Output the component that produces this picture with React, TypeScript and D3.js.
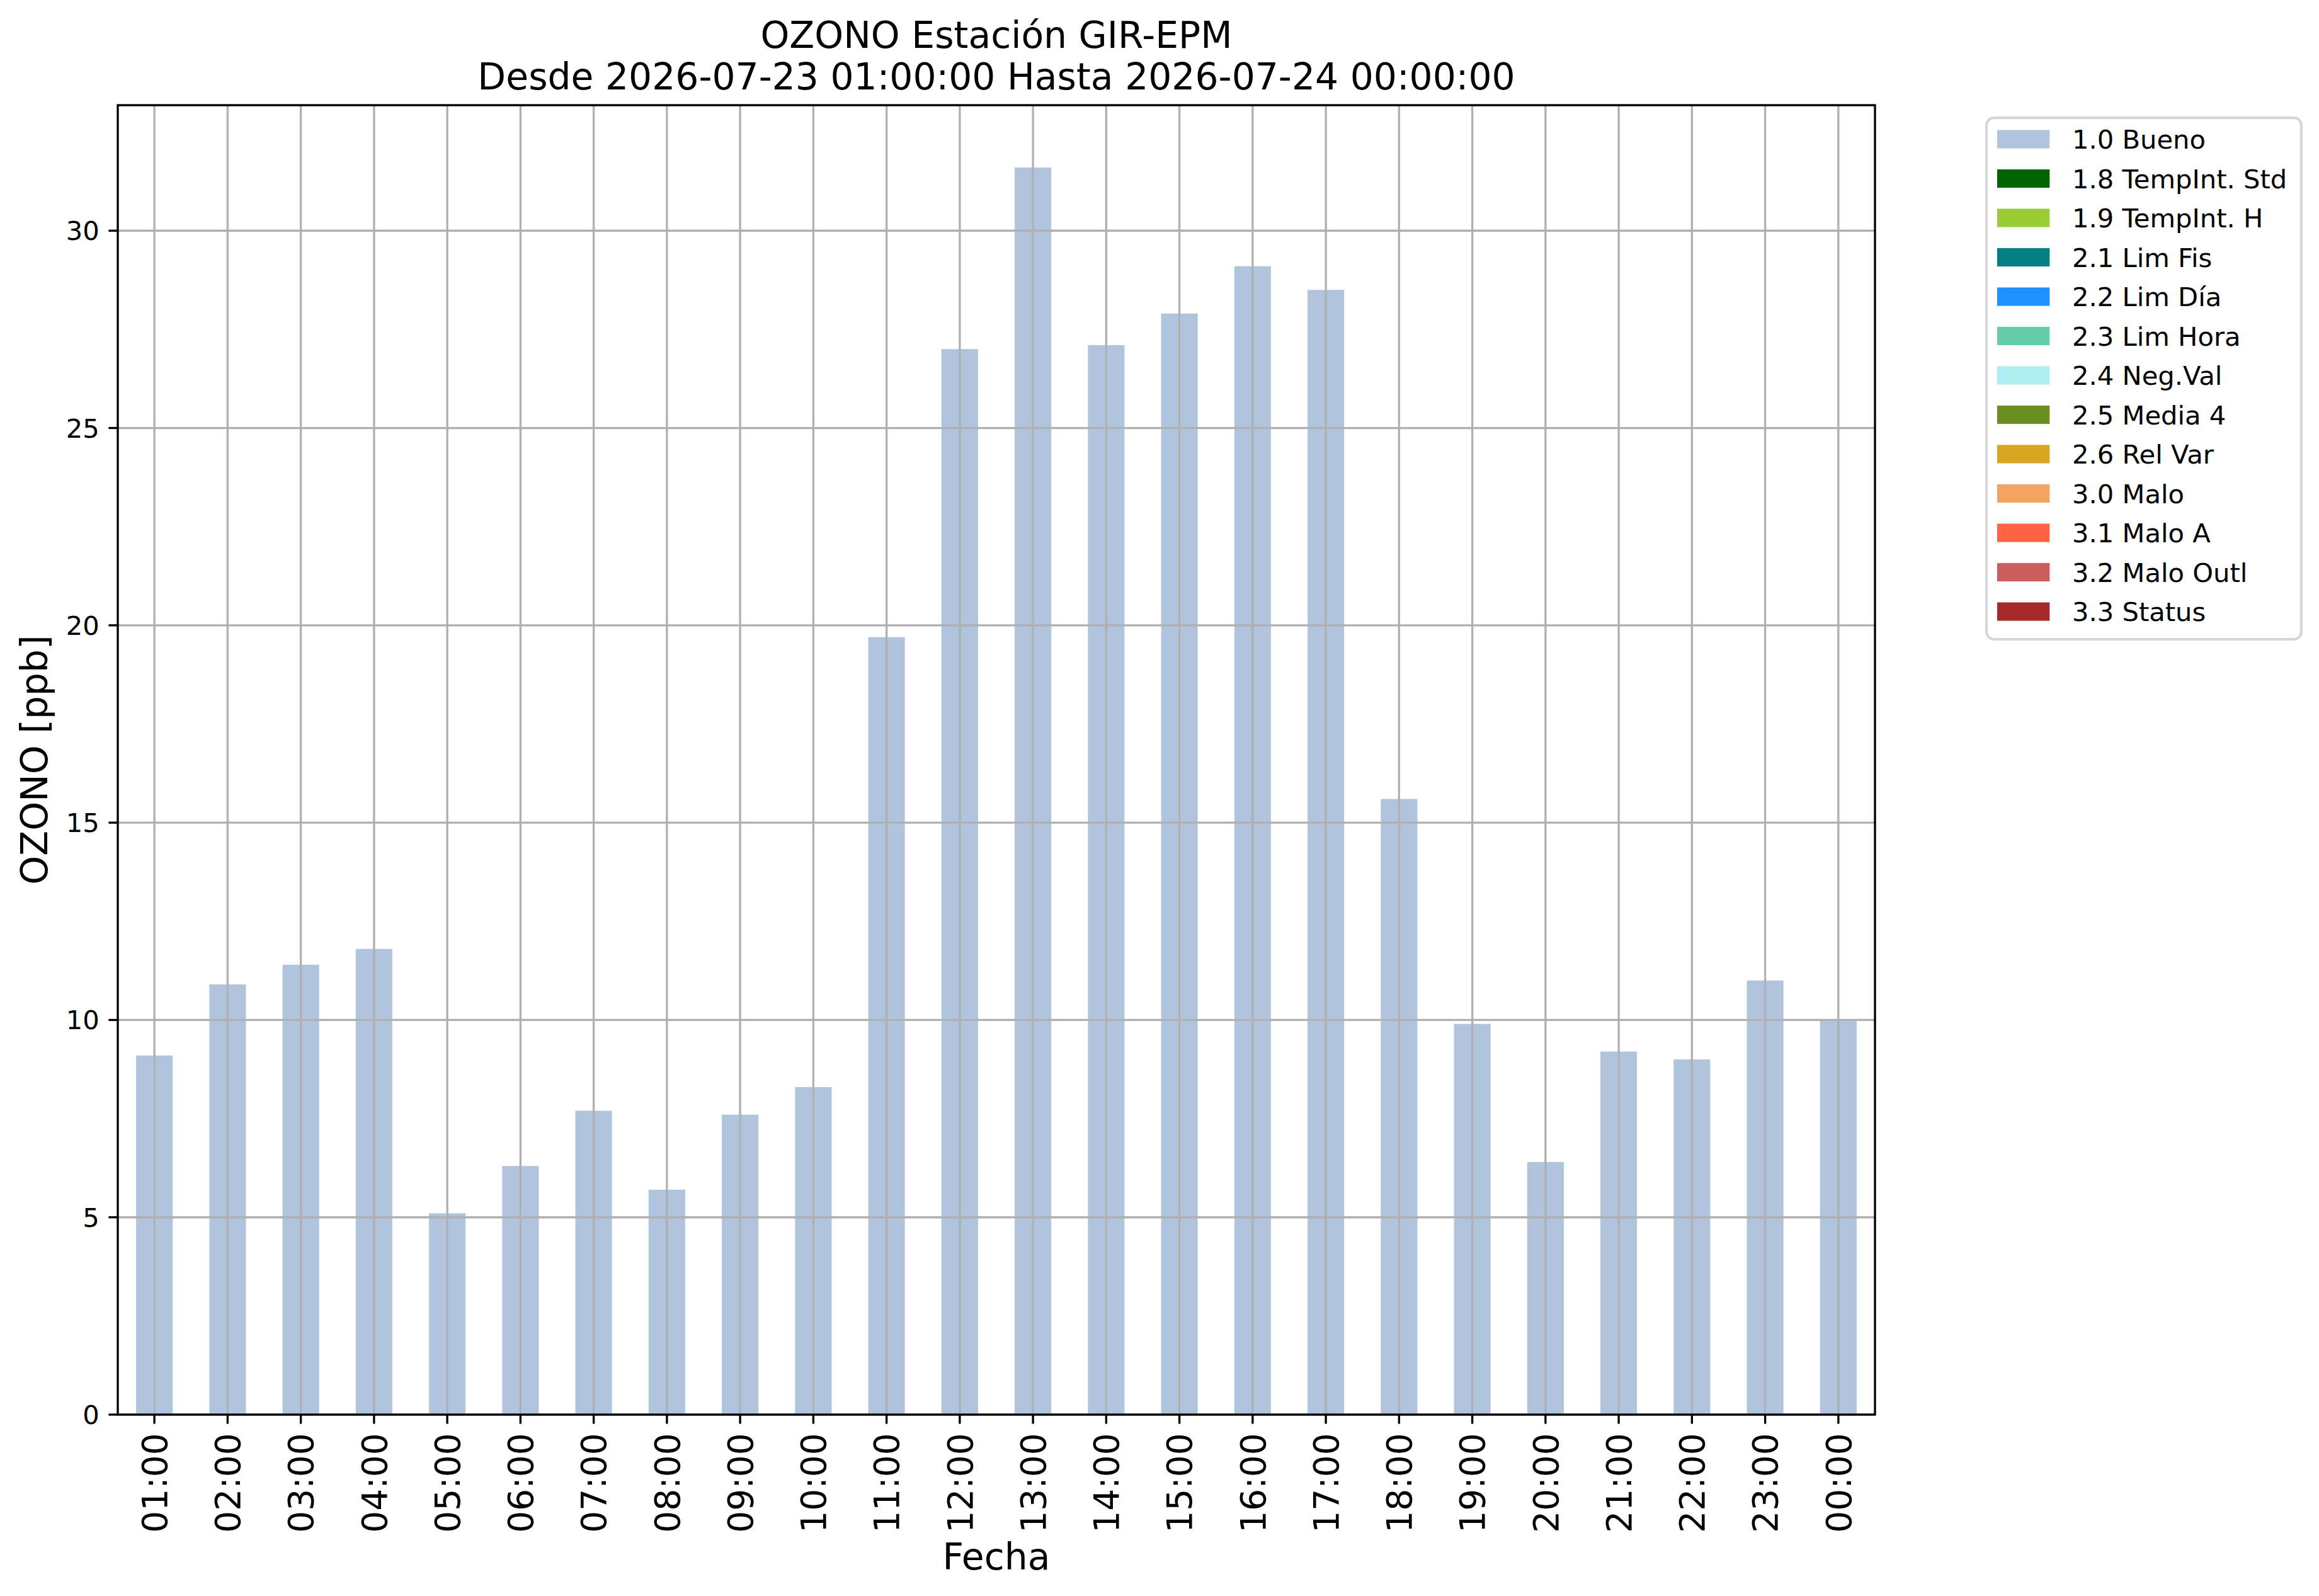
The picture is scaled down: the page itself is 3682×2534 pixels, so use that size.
import React from "react";
import * as d3 from "d3";

// hourly ozone readings, 2026-07-23 01:00 .. 2026-07-24 00:00
const hours = [
  "01:00", "02:00", "03:00", "04:00", "05:00", "06:00", "07:00", "08:00",
  "09:00", "10:00", "11:00", "12:00", "13:00", "14:00", "15:00", "16:00",
  "17:00", "18:00", "19:00", "20:00", "21:00", "22:00", "23:00", "00:00",
];
const ozone = [
  9.1, 10.9, 11.4, 11.8, 5.1, 6.3, 7.7, 5.7, 7.6, 8.3, 19.7, 27.0,
  31.6, 27.1, 27.9, 29.1, 28.5, 15.6, 9.9, 6.4, 9.2, 9.0, 11.0, 10.0,
];
const yTicks = [0, 5, 10, 15, 20, 25, 30];

const flagLabels = [
  "1.0 Bueno", "1.8 TempInt. Std", "1.9 TempInt. H", "2.1 Lim Fis",
  "2.2 Lim Día", "2.3 Lim Hora", "2.4 Neg.Val", "2.5 Media 4",
  "2.6 Rel Var", "3.0 Malo", "3.1 Malo A", "3.2 Malo Outl", "3.3 Status",
];
const flagColors = [
  "#b0c4de", "#006400", "#9acd32", "#008080", "#1e90ff", "#66cdaa",
  "#afeeee", "#6b8e23", "#daa520", "#f4a460", "#ff6347", "#cd5c5c", "#a52a2a",
];

const titleLines = [
  "OZONO Estación GIR-EPM",
  "Desde 2026-07-23 01:00:00 Hasta 2026-07-24 00:00:00",
];

const W = 3682;
const H = 2534;
const pt = 300 / 72; // figure saved at 300 dpi
const font = "DejaVu Sans";

const App: React.FC = () => {
  const margin = { left: 187, right: 2977, top: 167, bottom: 2246 };
  const innerW = margin.right - margin.left;

  const x = d3
    .scaleBand<string>()
    .domain(hours)
    .range([margin.left, margin.right])
    .paddingInner(0.5)
    .paddingOuter(0.25);
  const y = d3
    .scaleLinear()
    .domain([0, (d3.max(ozone) ?? 0) * 1.05])
    .range([margin.bottom, margin.top]);

  const lw = 0.8 * pt;
  const tickLen = 3.5 * pt;
  const tickFs = 10 * pt;
  const xTickFs = 13.2 * pt;
  const labelFs = 14 * pt;
  const legFs = 10 * pt;
  const cx = margin.left + innerW / 2;

  const leg = { x: 3154, y: 187, w: 500, h: 828 };
  const rowH = legFs * 1.5;

  return (
    <div style={{ position: "absolute", left: 0, top: 0 }}>
      <svg width={W} height={H} style={{ display: "block", background: "#fff" }} fontFamily={font}>
        <rect x={0} y={0} width={W} height={H} fill="#fff" />

        {/* bars */}
        {ozone.map((v, i) => (
          <rect
            key={hours[i]}
            x={x(hours[i])}
            y={y(v)}
            width={x.bandwidth()}
            height={y(0) - y(v)}
            fill={flagColors[0]}
          />
        ))}

        {/* grid */}
        <g stroke="#b0b0b0" strokeWidth={lw}>
          {hours.map((h) => {
            const px = (x(h) ?? 0) + x.bandwidth() / 2;
            return <line key={h} x1={px} x2={px} y1={margin.top} y2={margin.bottom} />;
          })}
          {yTicks.map((t) => (
            <line key={t} x1={margin.left} x2={margin.right} y1={y(t)} y2={y(t)} />
          ))}
        </g>

        {/* frame */}
        <rect
          x={margin.left}
          y={margin.top}
          width={innerW}
          height={margin.bottom - margin.top}
          fill="none"
          stroke="#000"
          strokeWidth={lw}
        />

        {/* y axis */}
        <g>
          {yTicks.map((t) => (
            <g key={t}>
              <line x1={margin.left - tickLen} x2={margin.left} y1={y(t)} y2={y(t)} stroke="#000" strokeWidth={lw} />
              <text
                x={margin.left - tickLen - 3.5 * pt}
                y={y(t) + tickFs * 0.36}
                fontSize={tickFs}
                textAnchor="end"
              >
                {t}
              </text>
            </g>
          ))}
        </g>

        {/* x axis */}
        <g>
          {hours.map((h) => {
            const px = (x(h) ?? 0) + x.bandwidth() / 2;
            return (
              <g key={h}>
                <line x1={px} x2={px} y1={margin.bottom} y2={margin.bottom + tickLen} stroke="#000" strokeWidth={lw} />
                <text
                  transform={`translate(${px + xTickFs * 0.36},${margin.bottom + tickLen + 3.5 * pt}) rotate(-90)`}
                  fontSize={xTickFs}
                  textAnchor="end"
                >
                  {h}
                </text>
              </g>
            );
          })}
        </g>

        {/* labels */}
        <text x={cx} y={2492} fontSize={labelFs} textAnchor="middle">Fecha</text>
        <text
          transform={`translate(75,${(margin.top + margin.bottom) / 2}) rotate(-90)`}
          fontSize={labelFs}
          textAnchor="middle"
        >
          OZONO [ppb]
        </text>
        {titleLines.map((t, i) => (
          <text key={i} x={cx} y={76 + i * 66} fontSize={labelFs} textAnchor="middle">
            {t}
          </text>
        ))}

        {/* legend */}
        <rect
          x={leg.x}
          y={leg.y}
          width={leg.w}
          height={leg.h}
          rx={12}
          fill="#fff"
          stroke="#d6d6d6"
          strokeWidth={lw * 1.2}
        />
        {flagLabels.map((lab, i) => {
          const cy = 221 + i * rowH;
          return (
            <g key={lab}>
              <rect x={3171} y={cy - legFs * 0.35} width={legFs * 2} height={legFs * 0.7} fill={flagColors[i]} />
              <text x={3290} y={cy + legFs * 0.36} fontSize={legFs}>
                {lab}
              </text>
            </g>
          );
        })}
      </svg>
    </div>
  );
};

export default App;
